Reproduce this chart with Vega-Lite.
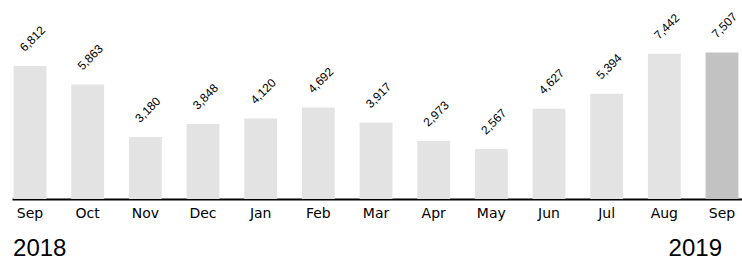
{
  "$schema": "https://vega.github.io/schema/vega-lite/v6.json",
  "width": 730,
  "height": 199,
  "autosize": {"type": "none"},
  "padding": {"left": 12, "top": 0, "right": 0, "bottom": 63},
  "background": "white",
  "config": {"view": {"stroke": null}, "font": "DejaVu Sans"},
  "datasets": {
    "months": [
      {"month": "Sep 2018", "value": 6812, "current": "no"},
      {"month": "Oct 2018", "value": 5863, "current": "no"},
      {"month": "Nov 2018", "value": 3180, "current": "no"},
      {"month": "Dec 2018", "value": 3848, "current": "no"},
      {"month": "Jan 2019", "value": 4120, "current": "no"},
      {"month": "Feb 2019", "value": 4692, "current": "no"},
      {"month": "Mar 2019", "value": 3917, "current": "no"},
      {"month": "Apr 2019", "value": 2973, "current": "no"},
      {"month": "May 2019", "value": 2567, "current": "no"},
      {"month": "Jun 2019", "value": 4627, "current": "no"},
      {"month": "Jul 2019", "value": 5394, "current": "no"},
      {"month": "Aug 2019", "value": 7442, "current": "no"},
      {"month": "Sep 2019", "value": 7507, "current": "yes"}
    ],
    "years": [
      {"month": "Sep 2018", "year": "2018"},
      {"month": "Sep 2019", "year": "2019"}
    ]
  },
  "encoding": {
    "x": {
      "field": "month",
      "type": "ordinal",
      "sort": null,
      "scale": {
        "domain": ["Sep 2018", "Oct 2018", "Nov 2018", "Dec 2018", "Jan 2019", "Feb 2019", "Mar 2019", "Apr 2019", "May 2019", "Jun 2019", "Jul 2019", "Aug 2019", "Sep 2019"],
        "paddingInner": 0.43,
        "paddingOuter": 0.045,
        "align": 0.31
      },
      "axis": {
        "title": null,
        "labelExpr": "substring(datum.label, 0, 3)",
        "labelAngle": 0,
        "labelFont": "DejaVu Sans",
        "labelFontSize": 14,
        "labelColor": "#000000",
        "labelPadding": 7,
        "ticks": false,
        "domainColor": "#000000",
        "domainWidth": 2
      }
    }
  },
  "layer": [
    {
      "data": {"name": "months"},
      "mark": {"type": "bar"},
      "encoding": {
        "y": {"field": "value", "type": "quantitative", "scale": {"domain": [0, 10200], "nice": false}, "axis": null},
        "color": {"field": "current", "type": "nominal", "scale": {"domain": ["no", "yes"], "range": ["#e3e3e3", "#c2c2c2"]}, "legend": null}
      }
    },
    {
      "data": {"name": "months"},
      "mark": {"type": "text", "angle": -45, "align": "left", "baseline": "alphabetic", "dx": 6, "dy": -13.5, "font": "Liberation Sans", "fontSize": 12, "color": "#000000"},
      "encoding": {
        "y": {"field": "value", "type": "quantitative"},
        "text": {"field": "value", "type": "quantitative", "format": ","}
      }
    },
    {
      "data": {"name": "years"},
      "transform": [{"filter": "datum.year == '2018'"}],
      "mark": {"type": "text", "align": "left", "baseline": "alphabetic", "dx": -17, "dy": 57, "font": "Liberation Sans", "fontSize": 24, "color": "#000000"},
      "encoding": {
        "y": {"datum": 0},
        "text": {"field": "year"}
      }
    },
    {
      "data": {"name": "years"},
      "transform": [{"filter": "datum.year == '2019'"}],
      "mark": {"type": "text", "align": "right", "baseline": "alphabetic", "dx": 0, "dy": 57, "font": "Liberation Sans", "fontSize": 24, "color": "#000000"},
      "encoding": {
        "y": {"datum": 0},
        "text": {"field": "year"}
      }
    }
  ]
}
